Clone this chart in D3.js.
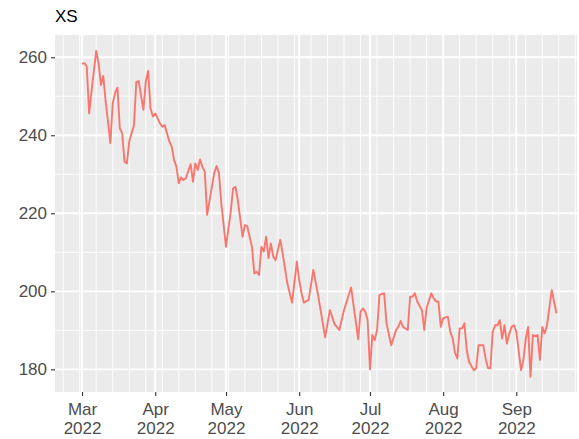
<!DOCTYPE html>
<html>
<head>
<meta charset="utf-8">
<script src="https://cdn.jsdelivr.net/npm/d3@7"></script>
<style>
body{margin:0;background:#fff;}
svg{display:block;font-family:"Liberation Sans",Arial,sans-serif;}
.grid-major{stroke:#fff;stroke-width:1.9;}
.grid-minor{stroke:#fff;stroke-width:0.9;}
.axis path{display:none;}
.axis line{stroke:#333;stroke-width:1.1;}
.axis text{fill:#4d4d4d;font-size:17px;}
</style>
</head>
<body>
<div id="plot"></div>
<script>
//chart data
var title = 'XS';
var dates = [
	'2022-03-01','2022-03-02','2022-03-03','2022-03-04','2022-03-05','2022-03-07','2022-03-08','2022-03-09','2022-03-10','2022-03-11',
	'2022-03-12','2022-03-13','2022-03-14','2022-03-15','2022-03-16','2022-03-17','2022-03-18','2022-03-19','2022-03-20','2022-03-21',
	'2022-03-23','2022-03-24','2022-03-25','2022-03-27','2022-03-28','2022-03-29','2022-03-30','2022-03-31',
	'2022-04-01','2022-04-03','2022-04-04','2022-04-05','2022-04-07','2022-04-08','2022-04-09','2022-04-10','2022-04-11','2022-04-12',
	'2022-04-13','2022-04-14','2022-04-16','2022-04-17','2022-04-18','2022-04-19','2022-04-20','2022-04-21','2022-04-22','2022-04-23',
	'2022-04-26','2022-04-27','2022-04-28','2022-04-29',
	'2022-05-01','2022-05-03','2022-05-04','2022-05-05','2022-05-06','2022-05-08','2022-05-09','2022-05-10','2022-05-12','2022-05-13',
	'2022-05-14','2022-05-15','2022-05-16','2022-05-17','2022-05-18','2022-05-19','2022-05-20','2022-05-21','2022-05-22','2022-05-24',
	'2022-05-25','2022-05-27','2022-05-29','2022-05-31',
	'2022-06-01','2022-06-02','2022-06-03','2022-06-05','2022-06-07','2022-06-09','2022-06-12','2022-06-14','2022-06-16','2022-06-18',
	'2022-06-20','2022-06-23','2022-06-25','2022-06-26','2022-06-27','2022-06-28','2022-06-29','2022-06-30',
	'2022-07-01','2022-07-02','2022-07-03','2022-07-04','2022-07-05','2022-07-07','2022-07-08','2022-07-10','2022-07-12','2022-07-13',
	'2022-07-14','2022-07-15','2022-07-17','2022-07-18','2022-07-19','2022-07-20','2022-07-21','2022-07-23','2022-07-24','2022-07-25',
	'2022-07-27','2022-07-28','2022-07-29','2022-07-30','2022-07-31',
	'2022-08-01','2022-08-03','2022-08-04','2022-08-05','2022-08-06','2022-08-07','2022-08-08','2022-08-09','2022-08-10','2022-08-11',
	'2022-08-12','2022-08-14','2022-08-15','2022-08-16','2022-08-18','2022-08-19','2022-08-20','2022-08-21','2022-08-22','2022-08-23',
	'2022-08-24','2022-08-25','2022-08-26','2022-08-27','2022-08-28','2022-08-29','2022-08-30','2022-08-31',
	'2022-09-01','2022-09-03','2022-09-04','2022-09-05','2022-09-06','2022-09-07','2022-09-08','2022-09-09','2022-09-10','2022-09-11',
	'2022-09-12','2022-09-13','2022-09-14','2022-09-16','2022-09-18'
];
var values = [
	258.3,258.5,257.6,245.6,251.2,261.6,258.5,252.9,255.2,248.6,
	243.5,238.0,248.2,250.8,252.2,241.8,240.5,233.2,232.8,238.4,
	242.6,253.7,253.9,246.5,253.7,256.5,246.9,244.8,
	245.6,243.1,242.2,242.6,238.4,237.1,233.7,231.9,227.7,229.2,
	228.5,229.0,232.6,228.1,232.8,231.1,233.8,231.9,230.7,219.6,
	230.3,232.1,230.3,222.6,
	211.4,220.4,226.4,226.8,223.4,214.0,217.0,216.7,211.4,204.6,
	205.0,204.2,211.4,210.2,214.0,208.5,212.3,208.9,208.0,213.2,
	209.7,202.0,197.1,207.6,
	202.9,199.5,197.1,197.8,205.5,199.1,188.2,195.2,191.6,190.1,
	195.2,201.0,192.2,187.7,194.8,195.6,194.8,192.6,
	180.0,188.8,187.5,190.1,199.1,199.5,191.8,186.2,190.0,190.9,
	192.4,190.9,190.1,198.6,198.6,199.5,197.4,195.2,190.1,195.8,
	199.5,198.2,197.4,197.4,190.9,
	193.1,193.5,189.6,188.0,184.3,182.8,190.5,190.5,191.8,184.9,
	181.9,179.8,180.3,186.2,186.2,182.8,180.3,180.3,189.6,191.3,
	191.3,192.6,187.9,191.3,186.6,189.1,190.9,191.3,
	189.6,179.8,182.4,187.9,190.9,178.1,188.8,188.5,188.8,182.4,
	190.9,189.2,191.3,200.3,194.4
];
var yTicks = [180, 200, 220, 240, 260];
var yMinor = [190, 210, 230, 250];
var monthTicks = ['2022-03-01','2022-04-01','2022-05-01','2022-06-01','2022-07-01','2022-08-01','2022-09-01'];

var parseDate = d3.timeParse('%Y-%m-%d');
var series = dates.map(function(d,i){ return {date:parseDate(d), value:values[i]}; });

//drawing environment
var W = 579, H = 439;
var m = {t:35, r:2, b:47, l:55},
	w = W - m.l - m.r,
	h = H - m.t - m.b;

var svg = d3.select('#plot').append('svg')
	.attr('width', W)
	.attr('height', H);

svg.append('text')
	.attr('x', m.l)
	.attr('y', 22)
	.attr('font-size', 17)
	.attr('fill', '#000')
	.text(title);

var plot = svg.append('g')
	.attr('transform', 'translate(' + m.l + ',' + m.t + ')');

//scales (domain padded like ggplot's default expansion)
var scaleX = d3.scaleTime()
	.domain([new Date(2022,1,17,13), new Date(2022,8,26,17)])
	.range([0, w]);
var scaleY = d3.scaleLinear()
	.domain([174.2, 265.7])
	.range([h, 0]);

plot.append('rect')
	.attr('width', w)
	.attr('height', h)
	.attr('fill', '#ebebeb');

//gridlines
var weekly = d3.timeMonday.range(scaleX.domain()[0], scaleX.domain()[1]);
plot.selectAll('.gx-minor')
	.data(weekly)
	.enter().append('line')
	.attr('class', 'grid-minor')
	.attr('x1', function(d){ return scaleX(d); })
	.attr('x2', function(d){ return scaleX(d); })
	.attr('y1', 0).attr('y2', h);
plot.selectAll('.gy-minor')
	.data(yMinor)
	.enter().append('line')
	.attr('class', 'grid-minor')
	.attr('x1', 0).attr('x2', w)
	.attr('y1', function(d){ return scaleY(d); })
	.attr('y2', function(d){ return scaleY(d); });
plot.selectAll('.gx-major')
	.data(monthTicks.map(parseDate))
	.enter().append('line')
	.attr('class', 'grid-major')
	.attr('x1', function(d){ return scaleX(d); })
	.attr('x2', function(d){ return scaleX(d); })
	.attr('y1', 0).attr('y2', h);
plot.selectAll('.gy-major')
	.data(yTicks)
	.enter().append('line')
	.attr('class', 'grid-major')
	.attr('x1', 0).attr('x2', w)
	.attr('y1', function(d){ return scaleY(d); })
	.attr('y2', function(d){ return scaleY(d); });

//line
var line = d3.line()
	.x(function(d){ return scaleX(d.date); })
	.y(function(d){ return scaleY(d.value); });
plot.append('path')
	.datum(series)
	.attr('d', line)
	.attr('fill', 'none')
	.attr('stroke', '#f8766d')
	.attr('stroke-width', 1.9)
	.attr('stroke-linejoin', 'round');

//axes
var xAxis = d3.axisBottom(scaleX)
	.tickValues(monthTicks.map(parseDate))
	.tickSize(4)
	.tickPadding(4)
	.tickFormat(d3.timeFormat('%b'));
var yAxis = d3.axisLeft(scaleY)
	.tickValues(yTicks)
	.tickSize(4)
	.tickPadding(4);

var gx = plot.append('g').attr('class', 'axis axis-x')
	.attr('transform', 'translate(0,' + h + ')')
	.call(xAxis);
gx.selectAll('.tick text')
	.attr('dy', null)
	.attr('y', 23)
	.each(function(d){
		d3.select(this).append('tspan')
			.attr('x', 0)
			.attr('y', 41.5)
			.text(d3.timeFormat('%Y')(d));
	});

plot.append('g').attr('class', 'axis axis-y')
	.call(yAxis);
</script>
</body>
</html>
